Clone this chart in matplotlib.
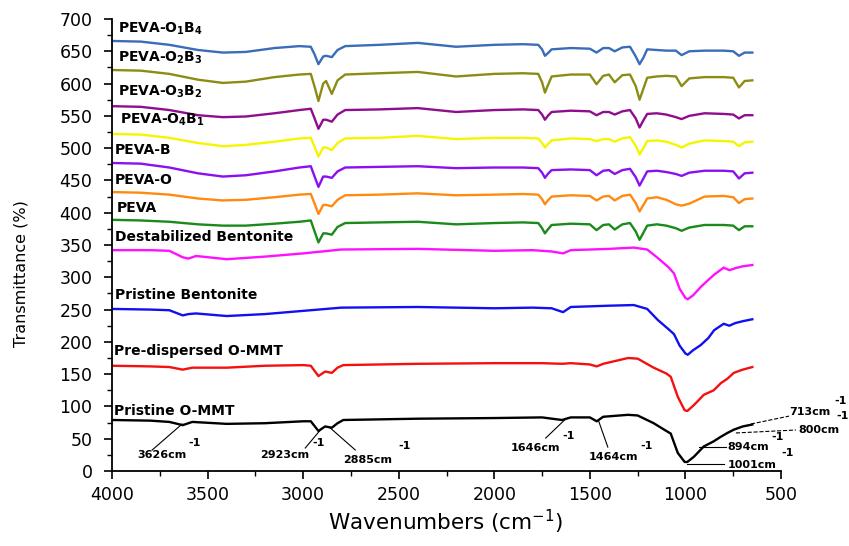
import matplotlib
matplotlib.use("Agg")
import matplotlib.pyplot as plt
from matplotlib.ticker import MultipleLocator

plt.rcParams['font.family'] = ['DejaVu Sans']

# ---- shared wavenumber grid for PEVA-type spectra ----
wn_peva = [4000, 3850, 3700, 3550, 3420, 3300, 3150, 3020, 2960, 2940, 2920, 2895, 2880, 2850,
           2820, 2780, 2600, 2400, 2200, 2000, 1850, 1770, 1750, 1735, 1720, 1700, 1600, 1500,
           1465, 1430, 1400, 1370, 1330, 1290, 1260, 1240, 1220, 1200, 1150, 1100, 1050, 1020,
           980, 900, 800, 750, 720, 690, 650]

peva_o1b4 = [666, 665, 660, 652, 648, 649, 655, 658, 657, 645, 630, 642, 643, 641,
             652, 658, 660, 663, 657, 660, 661, 660, 653, 643, 647, 653, 655, 654,
             648, 655, 655, 650, 656, 657, 642, 630, 640, 653, 652, 651, 651, 644,
             650, 651, 651, 650, 643, 648, 648]
peva_o2b3 = [621, 620, 615, 606, 601, 603, 610, 614, 615, 595, 573, 600, 604, 584,
             605, 614, 616, 618, 611, 615, 616, 615, 602, 586, 597, 611, 614, 614,
             599, 612, 614, 602, 613, 614, 596, 575, 592, 609, 611, 612, 611, 596,
             608, 610, 610, 609, 594, 604, 605]
peva_o3b2 = [565, 564, 559, 551, 548, 549, 554, 559, 561, 546, 530, 544, 544, 541,
             552, 559, 560, 562, 556, 559, 560, 559, 552, 544, 550, 556, 558, 557,
             551, 556, 556, 552, 557, 559, 546, 532, 543, 553, 554, 552, 548, 545,
             550, 554, 553, 552, 546, 551, 551]
peva_o4b1 = [522, 521, 516, 508, 503, 505, 510, 515, 516, 502, 487, 501, 501, 497,
             508, 515, 516, 519, 514, 516, 516, 515, 508, 501, 506, 512, 515, 514,
             511, 514, 514, 510, 515, 517, 504, 490, 500, 511, 512, 510, 505, 501,
             507, 512, 511, 510, 503, 509, 510]
peva_b = [477, 476, 470, 461, 456, 458, 464, 470, 472, 456, 440, 456, 456, 454,
          464, 470, 471, 472, 469, 470, 470, 469, 462, 454, 460, 466, 467, 466,
          458, 465, 466, 460, 466, 468, 455, 442, 453, 464, 465, 463, 460, 457,
          462, 465, 465, 464, 453, 461, 462]
peva_o = [432, 431, 428, 422, 419, 420, 424, 428, 429, 414, 398, 412, 412, 410,
          420, 427, 428, 430, 427, 428, 429, 428, 421, 413, 419, 425, 427, 426,
          419, 425, 426, 419, 426, 428, 415, 402, 412, 422, 424, 420, 413, 411,
          414, 425, 426, 424, 415, 421, 422]
peva = [389, 388, 386, 382, 380, 380, 383, 386, 388, 371, 354, 368, 368, 366,
        378, 384, 385, 386, 382, 384, 385, 384, 376, 368, 374, 381, 383, 382,
        373, 381, 382, 374, 382, 384, 371, 358, 369, 380, 382, 380, 376, 372,
        377, 381, 381, 380, 373, 379, 379]

# ---- clay spectra ----
wn_bent = [4000, 3800, 3700, 3630, 3600, 3560, 3400, 3200, 3000, 2800, 2400, 2000, 1800, 1700,
           1640, 1600, 1400, 1270, 1200, 1145, 1090, 1060, 1030, 1000, 988, 960, 920, 880,
           850, 800, 770, 740, 700, 650]
destab_bent = [342, 342, 341, 331, 329, 333, 328, 332, 337, 343, 344, 341, 342, 340,
               337, 342, 344, 346, 343, 330, 316, 306, 282, 268, 266, 272, 285, 296,
               304, 315, 311, 314, 317, 319]
pristine_bent = [251, 250, 249, 241, 243, 244, 240, 243, 248, 253, 254, 252, 253, 252,
                 246, 254, 256, 257, 251, 234, 220, 212, 194, 182, 180, 187, 195, 206,
                 218, 228, 225, 229, 232, 235]

wn_ommt = [4000, 3800, 3700, 3630, 3580, 3400, 3200, 3000, 2960, 2920, 2885, 2850, 2820, 2790,
           2400, 2000, 1750, 1646, 1600, 1500, 1464, 1430, 1300, 1250, 1166, 1100, 1077, 1040,
           1004, 990, 956, 904, 852, 815, 780, 747, 700, 650]
predisp_ommt = [163, 162, 161, 157, 160, 160, 163, 164, 163, 147, 154, 152, 160, 164,
                166, 167, 167, 166, 167, 165, 162, 166, 175, 174, 160, 151, 146, 115,
                94, 93, 102, 118, 125, 136, 143, 152, 157, 161]
pristine_ommt = [79, 78, 76, 71, 76, 73, 74, 77, 77, 62, 69, 67, 74, 79,
                 81, 82, 83, 79, 83, 83, 77, 84, 87, 86, 74, 62, 58, 28,
                 14, 14, 22, 38, 46, 53, 59, 64, 69, 72]

series = [
    (wn_peva, peva_o1b4, '#3a6cb8', r'PEVA-O$_\mathbf{1}$B$_\mathbf{4}$', 3969, 684.5),
    (wn_peva, peva_o2b3, '#8c8c14', r'PEVA-O$_\mathbf{2}$B$_\mathbf{3}$', 3969, 639.6),
    (wn_peva, peva_o3b2, '#8e0e8e', r'PEVA-O$_\mathbf{3}$B$_\mathbf{2}$', 3969, 587),
    (wn_peva, peva_o4b1, '#f5f500', r'PEVA-O$_\mathbf{4}$B$_\mathbf{1}$', 3958, 543.6),
    (wn_peva, peva_b, '#8a10f0', 'PEVA-B', 3984, 497),
    (wn_peva, peva_o, '#ff8a10', 'PEVA-O', 3984, 450.7),
    (wn_peva, peva, '#1a8a1a', 'PEVA', 3974, 407),
    (wn_bent, destab_bent, '#ff10ff', 'Destabilized Bentonite', 3984, 362.4),
    (wn_bent, pristine_bent, '#1010f0', 'Pristine Bentonite', 3984, 272.6),
    (wn_ommt, predisp_ommt, '#f51010', 'Pre-dispersed O-MMT', 3990, 185.8),
    (wn_ommt, pristine_ommt, '#000000', 'Pristine O-MMT', 3990, 93),
]

# annotations: text, text pos (wn, T), superscript pos, leader start, leader end, linestyle
annotations = [
    ('3626cm', (3869, 24.8), (3602, 43), (3790, 32.5), (3633, 72.8), '-'),
    ('2923cm', (3225, 25), (2952, 43), (2989, 35.6), (2910, 63.5), '-'),
    ('2885cm', (2790, 17), (2502, 39), (2727, 32.5), (2858, 66.6), '-'),
    ('1646cm', (1915, 35.6), (1642, 54), (1731, 51), (1627, 80.5), '-'),
    ('1464cm', (1506, 21.7), (1234, 38.7), (1406, 37), (1454, 77.4), '-'),
    ('1001cm', (778, 9.3), (500, 27.9), (993, 10.8), (799, 10.8), '-'),
    ('894cm', (778, 37), (552, 52.7), (930, 37), (788, 37), '-'),
    ('800cm', (411, 63.5), (212, 85), (736, 58.9), (422, 63.5), '--'),
    ('713cm', (458, 91.4), (222, 108), (657, 72.8), (458, 85), '--'),
]

fig = plt.figure(figsize=(8.49, 5.46), dpi=100)
ax = fig.add_axes([112 / 849, 1 - 471 / 546, 669 / 849, 452 / 546])

for wn, vals, col, lab, lx, ly in series:
    ax.plot(wn, vals, color=col, lw=1.7, solid_joinstyle='round')
    ax.text(lx, ly, lab, fontsize=10, fontweight='bold', ha='left', va='center')

for txt, tpos, spos, l0, l1, ls in annotations:
    ax.plot([l0[0], l1[0]], [l0[1], l1[1]], color='black', lw=0.8, ls=ls, clip_on=False)
    ax.text(tpos[0], tpos[1], txt, fontsize=8, fontweight='bold', ha='left', va='center',
            clip_on=False)
    ax.text(spos[0], spos[1], '-1', fontsize=8, fontweight='bold', ha='left', va='center',
            clip_on=False)

ax.set_xlim(4000, 500)
ax.set_ylim(0, 700)
ax.xaxis.set_major_locator(MultipleLocator(500))
ax.xaxis.set_minor_locator(MultipleLocator(250))
ax.yaxis.set_major_locator(MultipleLocator(50))
ax.yaxis.set_minor_locator(MultipleLocator(25))
ax.spines['top'].set_visible(False)
ax.spines['right'].set_visible(False)
for s in ('left', 'bottom'):
    ax.spines[s].set_linewidth(1.3)
ax.tick_params(axis='both', which='major', length=6, width=1.2, labelsize=12.5)
ax.tick_params(axis='both', which='minor', length=3.5, width=1.0)
ax.tick_params(axis='y', which='major', pad=8)
ax.tick_params(axis='x', which='major', pad=5)

fig.text(21 / 849, 1 - 274 / 546, 'Transmittance (%)', rotation=90, ha='center', va='center',
         fontsize=11.5)
fig.text(446 / 849, 1 - 522 / 546, 'Wavenumbers (cm$^{-1}$)', ha='center', va='center',
         fontsize=15.5)

fig.savefig('out.png', dpi=100, facecolor='white')
